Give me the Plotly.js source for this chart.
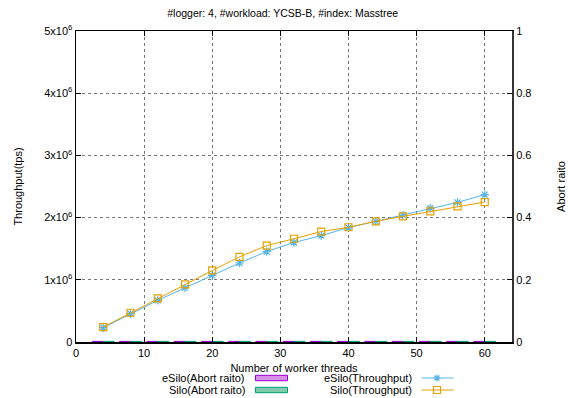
<!DOCTYPE html>
<html><head><meta charset="utf-8">
<script src="https://cdn.plot.ly/plotly-3.0.1.min.js"></script>
<style>html,body{margin:0;padding:0;background:#fff}#c{width:568px;height:398px}</style>
</head><body><div id="c"></div>
<script>
var threads = [4, 8, 12, 16, 20, 24, 28, 32, 36, 40, 44, 48, 52, 56, 60];
var esiloThroughput = [0.23e6, 0.455e6, 0.67e6, 0.87e6, 1.07e6, 1.27e6, 1.455e6, 1.60e6, 1.71e6, 1.84e6, 1.94e6, 2.04e6, 2.15e6, 2.245e6, 2.37e6];
var siloThroughput  = [0.24e6, 0.47e6, 0.70e6, 0.925e6, 1.15e6, 1.37e6, 1.55e6, 1.66e6, 1.775e6, 1.845e6, 1.94e6, 2.02e6, 2.10e6, 2.18e6, 2.25e6];
var esiloAbort = [0.002, 0.002, 0.002, 0.002, 0.002, 0.002, 0.002, 0.002, 0.002, 0.002, 0.002, 0.002, 0.002, 0.002, 0.002];
var siloAbort  = [0.002, 0.002, 0.002, 0.002, 0.002, 0.002, 0.002, 0.002, 0.002, 0.002, 0.002, 0.002, 0.002, 0.002, 0.002];
var yTickVals = [0, 1e6, 2e6, 3e6, 4e6, 5e6];
var yTickText = ['0', '1x10<sup>6</sup>', '2x10<sup>6</sup>', '3x10<sup>6</sup>', '4x10<sup>6</sup>', '5x10<sup>6</sup>'];
var y2TickVals = [0, 0.2, 0.4, 0.6, 0.8, 1];
var y2TickText = ['0', '0.2', '0.4', '0.6', '0.8', '1'];
var legendNames = ['eSilo(Abort raito)', 'Silo(Abort raito)', 'eSilo(Throughput)', 'Silo(Throughput)'];

var W = 568, H = 398, ML = 76, MR = 56, MT = 31, MB = 56;
var PW = W - ML - MR, PH = H - MT - MB;
function px(x) { return (x - ML) / PW; }
function py(y) { return (H - MB - y) / PH; }

var colE = '#56b4e9', colS = '#e69f00';
var font = {family: 'Liberation Sans, Arial, sans-serif', size: 11, color: '#000'};
var traces = [
  {type: 'bar', name: legendNames[0], x: threads, y: esiloAbort, yaxis: 'y2', showlegend: false,
   marker: {color: '#d88ee8', line: {color: '#9400d3', width: 1}}, width: 1.6, offset: -1.6},
  {type: 'bar', name: legendNames[1], x: threads, y: siloAbort, yaxis: 'y2', showlegend: false,
   marker: {color: '#80cbb0', line: {color: '#009e73', width: 1}}, width: 1.6, offset: 0},
  {type: 'scatter', mode: 'lines+markers', name: legendNames[2], x: threads, y: esiloThroughput, showlegend: false,
   line: {color: colE, width: 1}, marker: {symbol: 'asterisk-open', size: 7, color: colE, line: {color: colE, width: 1.2}}},
  {type: 'scatter', mode: 'lines+markers', name: legendNames[3], x: threads, y: siloThroughput, showlegend: false,
   line: {color: colS, width: 1}, marker: {symbol: 'square-open', size: 7, color: colS, line: {color: colS, width: 1.2}}}
];

// custom gnuplot-style legend (text right-aligned, then sample)
var rowY = [378, 390];
var annotations = [];
var shapes = [];
[[247, legendNames[0]], [247, legendNames[1]]].forEach(function (d, i) {
  annotations.push({xref: 'paper', yref: 'paper', x: px(d[0]), y: py(rowY[i]), xanchor: 'right', yanchor: 'middle',
    text: d[1], showarrow: false, font: font});
});
[[414, legendNames[2]], [414, legendNames[3]]].forEach(function (d, i) {
  annotations.push({xref: 'paper', yref: 'paper', x: px(d[0]), y: py(rowY[i]), xanchor: 'right', yanchor: 'middle',
    text: d[1], showarrow: false, font: font});
});
shapes.push({type: 'rect', xref: 'paper', yref: 'paper', x0: px(255.5), x1: px(287.5), y0: py(rowY[0] - 2.7), y1: py(rowY[0] + 2.7),
  fillcolor: '#d88ee8', line: {color: '#9400d3', width: 1}});
shapes.push({type: 'rect', xref: 'paper', yref: 'paper', x0: px(255.5), x1: px(287.5), y0: py(rowY[1] - 2.7), y1: py(rowY[1] + 2.7),
  fillcolor: '#80cbb0', line: {color: '#009e73', width: 1}});
[[colE, 0], [colS, 1]].forEach(function (d) {
  shapes.push({type: 'line', xref: 'paper', yref: 'paper', x0: px(421.5), x1: px(453.5), y0: py(rowY[d[1]]), y1: py(rowY[d[1]]),
    line: {color: d[0], width: 1}});
});
var cx = 437, cy = rowY[0], r = 3.5, rd = 2.5;
shapes.push({type: 'path', xref: 'paper', yref: 'paper',
  path: 'M' + px(cx - r) + ',' + py(cy) + ' L' + px(cx + r) + ',' + py(cy) +
        ' M' + px(cx) + ',' + py(cy - r) + ' L' + px(cx) + ',' + py(cy + r) +
        ' M' + px(cx - rd) + ',' + py(cy - rd) + ' L' + px(cx + rd) + ',' + py(cy + rd) +
        ' M' + px(cx - rd) + ',' + py(cy + rd) + ' L' + px(cx + rd) + ',' + py(cy - rd),
  line: {color: colE, width: 1.2}});
cy = rowY[1];
shapes.push({type: 'rect', xref: 'paper', yref: 'paper', x0: px(cx - 3.5), x1: px(cx + 3.5), y0: py(cy + 3.5), y1: py(cy - 3.5),
  fillcolor: 'rgba(0,0,0,0)', line: {color: colS, width: 1.2}});

var layout = {
  width: W, height: H,
  margin: {l: ML, r: MR, t: MT, b: MB, autoexpand: false},
  paper_bgcolor: '#fff', plot_bgcolor: '#fff',
  font: font,
  title: {text: '#logger: 4, #workload: YCSB-B, #index: Masstree', font: {family: font.family, size: 10.5, color: '#000'},
          x: px(293), xanchor: 'center', y: 1 - 13 / H, yanchor: 'middle'},
  showlegend: false,
  barmode: 'overlay',
  annotations: annotations,
  shapes: shapes,
  xaxis: {range: [0, 64], tickvals: [0, 10, 20, 30, 40, 50, 60], ticks: 'inside', ticklen: 5, tickcolor: '#000',
          showline: true, linecolor: '#000', linewidth: 1.5, mirror: 'ticks', showgrid: true, gridcolor: '#777', griddash: 'dot', gridwidth: 1,
          zeroline: false, tickfont: font,
          title: {text: 'Number of worker threads', font: font, standoff: 6}},
  yaxis: {range: [0, 5e6], tickvals: yTickVals, ticktext: yTickText, ticks: 'inside', ticklen: 5, tickcolor: '#000',
          showline: true, linecolor: '#000', linewidth: 1.5, mirror: true, showgrid: true, gridcolor: '#777', griddash: 'dot', gridwidth: 1,
          zeroline: false, tickfont: font,
          title: {text: 'Throughput(tps)', font: font, standoff: 19}},
  yaxis2: {range: [0, 1], overlaying: 'y', side: 'right', tickvals: y2TickVals, ticktext: y2TickText, ticks: 'inside', ticklen: 5, tickcolor: '#000',
           showline: true, linecolor: '#333', linewidth: 2, showgrid: false, zeroline: false, tickfont: font,
           title: {text: 'Abort raito', font: font, standoff: 27}}
};
Plotly.newPlot('c', traces, layout, {displayModeBar: false, staticPlot: true});
</script></body></html>
